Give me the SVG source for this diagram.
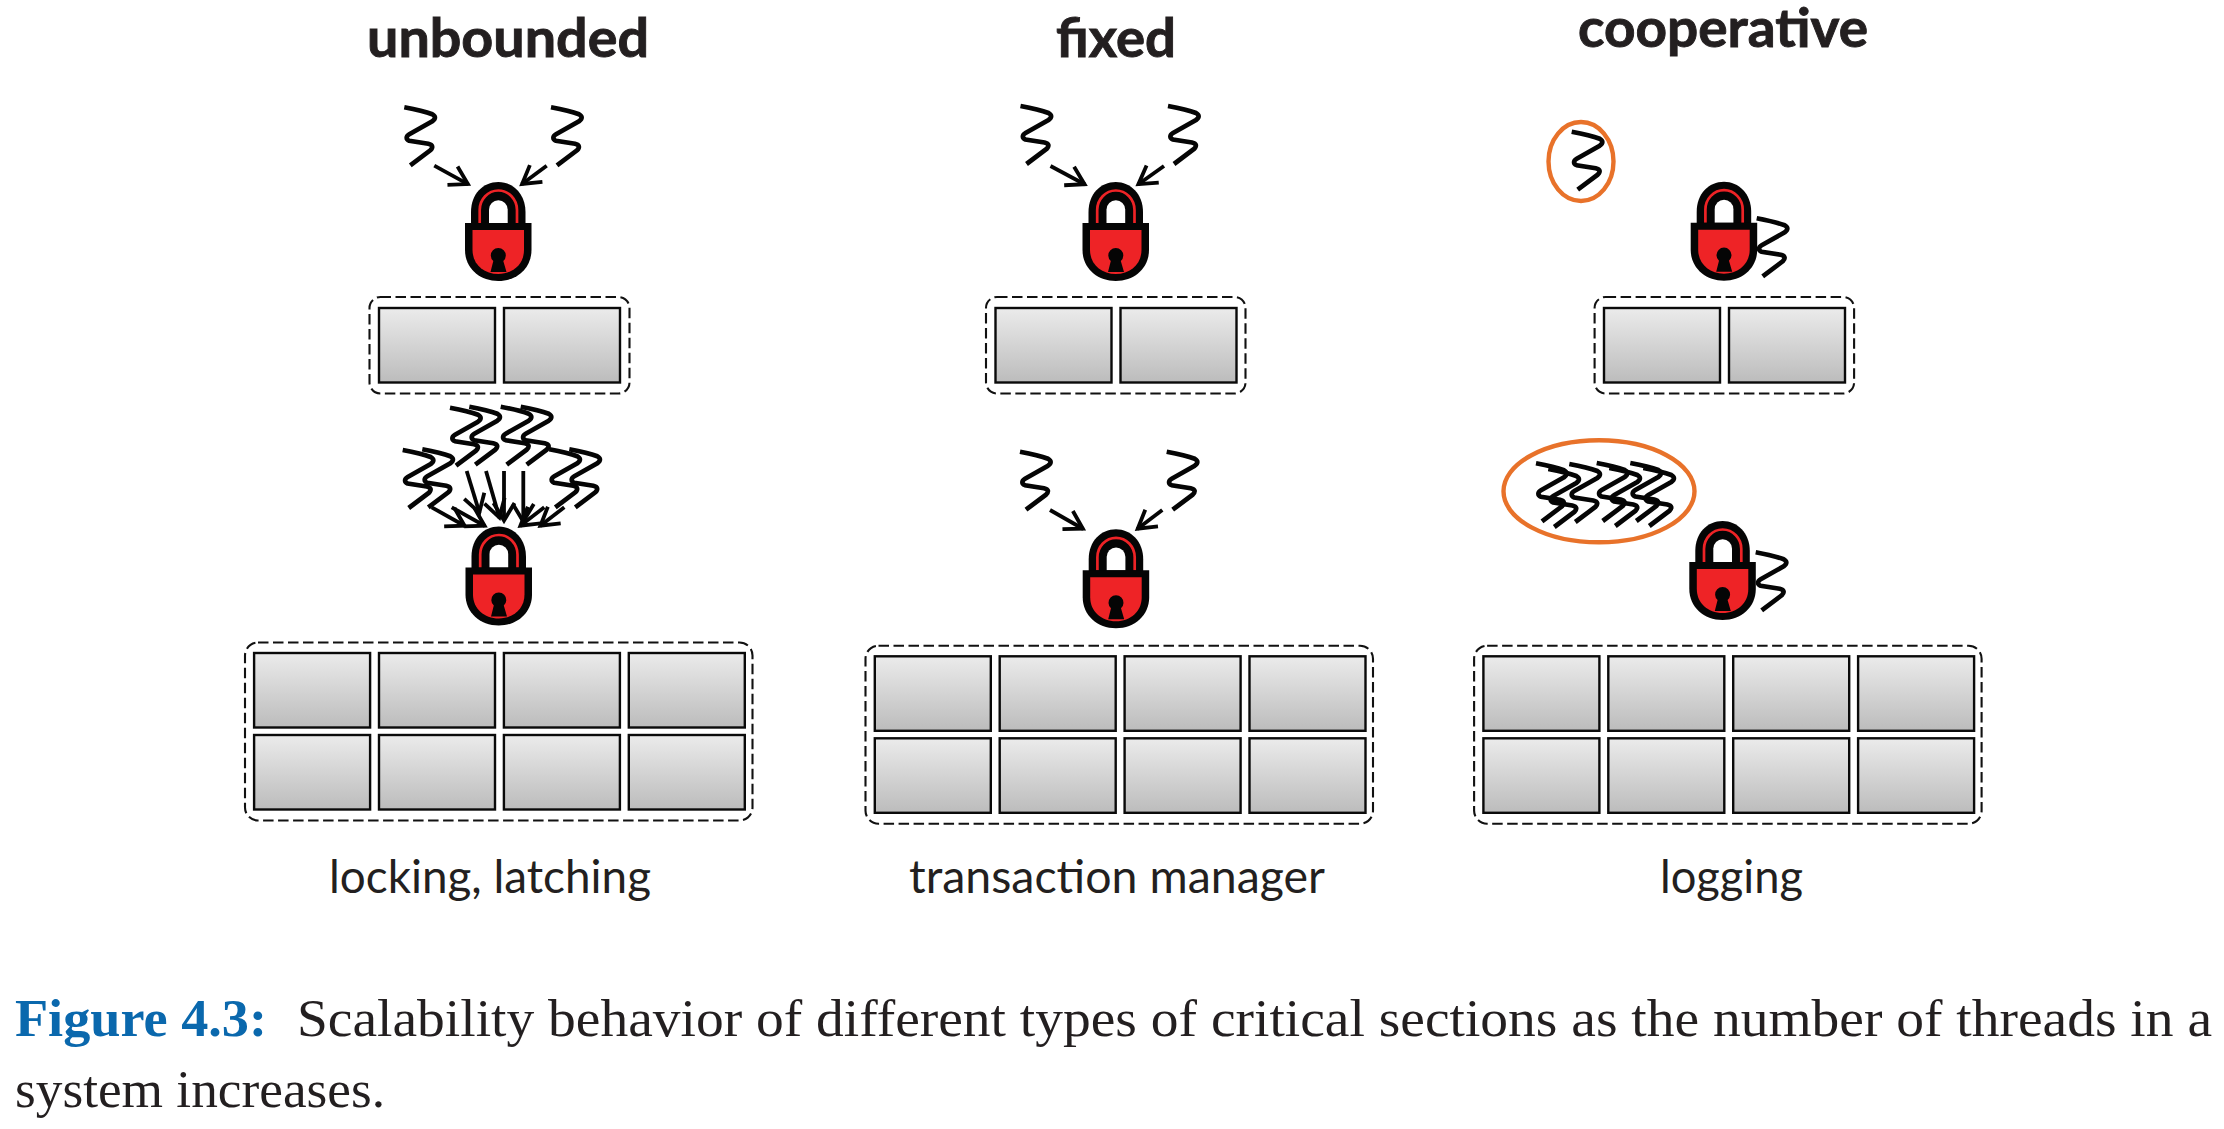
<svg xmlns="http://www.w3.org/2000/svg" xmlns:xlink="http://www.w3.org/1999/xlink" width="2224" height="1129" viewBox="0 0 2224 1129">
<style>
.title{font-family:"Lato","Open Sans",sans-serif;font-weight:700;font-size:53px;fill:#231f20;stroke:#231f20;stroke-width:.9}
.label{font-family:"Lato","Open Sans",sans-serif;font-weight:400;font-size:46px;fill:#231f20}
.cap{font-family:"Liberation Serif",serif;font-size:53px;fill:#231f20}
.capb{font-family:"Liberation Serif",serif;font-weight:700;font-size:53px;fill:#0a68ad}
.cell{fill:url(#g);stroke:#0a0a0a;stroke-width:2.4}
.dash{fill:none;stroke:#111;stroke-width:2.1;stroke-dasharray:10.5 4.5}
.th{fill:none;stroke:#050505;stroke-width:4.7}
.arrow{fill:none;stroke:#050505;stroke-width:3.8;marker-end:url(#head)}
.ring{fill:none;stroke:#e8722a;stroke-width:4.4}
</style>
<defs>
<linearGradient id="g" x1="0" y1="0" x2="0" y2="1"><stop offset="0" stop-color="#ebebeb"/><stop offset="1" stop-color="#bcbcbc"/></linearGradient>
<marker id="head" markerUnits="userSpaceOnUse" markerWidth="30" markerHeight="30" refX="21" refY="15" orient="auto" overflow="visible"><path d="M3,4.5 L20.5,15 L3,25.5" fill="none" stroke="#050505" stroke-width="3.8"/></marker>
<path id="t" class="th" d="M0,0 C8,1.5 20,4 28,7 C31.5,9 31.5,11.5 28,14 L5,27 C1.5,29 1.5,32 5,33.5 L24,36.5 C28.5,37.5 29,40 26,43 L6,58"/>
<g id="lock">
<path d="M6,42 V30 C6,12 18,0 33.3,0 C48,0 60.5,12 60.5,30 V42 Z" fill="#050505"/>
<path d="M14.7,41 V28 A18.65,19.5 0 0 1 52,28 V41" fill="none" stroke="#ee2326" stroke-width="2.7"/>
<path d="M24,41 V27.5 A9.35,9.35 0 0 1 42.7,27.5 V41 Z" fill="#fff"/>
<path d="M0,41 H66.5 V68 C66.5,86 52,99 33.25,99 C14.5,99 0,86 0,68 Z" fill="#050505"/>
<path d="M7.5,48 H59 V68 C59,82 48,92 33.25,92 C18.5,92 7.5,82 7.5,68 Z" fill="#ee2326"/>
<path d="M28.3,79 A7.5,7.5 0 1 1 38.3,79 L41.5,90 H25.5 Z" fill="#050505"/>
</g>
<g id="cells2">
<rect class="cell" x="0" y="0" width="116" height="74.5"/><rect class="cell" x="125" y="0" width="116" height="74.5"/>
</g>
<g id="cells8">
<rect class="cell" x="0" y="0" width="116" height="74.5"/><rect class="cell" x="124.9" y="0" width="116" height="74.5"/><rect class="cell" x="249.8" y="0" width="116" height="74.5"/><rect class="cell" x="374.7" y="0" width="116" height="74.5"/>
<rect class="cell" x="0" y="82" width="116" height="74.5"/><rect class="cell" x="124.9" y="82" width="116" height="74.5"/><rect class="cell" x="249.8" y="82" width="116" height="74.5"/><rect class="cell" x="374.7" y="82" width="116" height="74.5"/>
</g>
</defs>
<rect width="2224" height="1129" fill="#fff"/>

<g id="titles">
<text class="title" x="367" y="57" textLength="282" lengthAdjust="spacingAndGlyphs">unbounded</text>
<text class="title" x="1056" y="57" textLength="120" lengthAdjust="spacingAndGlyphs">fixed</text>
<text class="title" x="1578" y="47" textLength="290" lengthAdjust="spacingAndGlyphs">cooperative</text>
</g>

<g id="unbounded-top">
<use href="#t" x="404.3" y="107.3"/><use href="#t" x="551" y="107.3"/>
<use href="#lock" x="465" y="182"/>
<rect class="dash" x="369.5" y="297" width="260" height="96.5" rx="11"/>
<use href="#cells2" x="379" y="308"/>
</g>
<g id="unbounded-bottom">
<use href="#t" x="402.7" y="450"/><use href="#t" x="422.3" y="449.3"/><use href="#t" x="450" y="407.7"/><use href="#t" x="469.3" y="406.7"/><use href="#t" x="500.7" y="406.7"/><use href="#t" x="520.7" y="406.7"/><use href="#t" x="549.3" y="449.3"/><use href="#t" x="569.3" y="449.3"/>
<use href="#lock" x="465.5" y="526.5"/>
<rect class="dash" x="245" y="642.5" width="507.5" height="178" rx="13"/>
<use href="#cells8" x="254.1" y="653"/>
</g>
<g id="fixed-top">
<use href="#t" x="1020.5" y="106"/><use href="#t" x="1168" y="106"/>
<use href="#lock" x="1082.5" y="182"/>
<rect class="dash" x="986" y="297" width="259.5" height="96.5" rx="11"/>
<use href="#cells2" x="995.5" y="308"/>
</g>
<g id="fixed-bottom">
<use href="#t" x="1020" y="451.7"/><use href="#t" x="1166.7" y="451.7"/>
<use href="#lock" x="1082.7" y="529.3"/>
<rect class="dash" x="865.5" y="645.7" width="507.5" height="178" rx="13"/>
<use href="#cells8" x="874.8" y="656.3"/>
</g>
<g id="cooperative-top">
<ellipse class="ring" cx="1581" cy="161.5" rx="32.5" ry="39.5"/>
<use href="#t" x="1571.7" y="131.7"/>
<use href="#lock" x="1690.7" y="181.7"/>
<use href="#t" x="1756.7" y="218.3"/>
<rect class="dash" x="1594.6" y="297" width="259.5" height="96.5" rx="11"/>
<use href="#cells2" x="1604" y="308"/>
</g>
<g id="cooperative-bottom">
<ellipse class="ring" cx="1599" cy="491.3" rx="95.5" ry="51"/>
<use href="#t" x="1536" y="463.3"/><use href="#t" x="1548.3" y="469"/><use href="#t" x="1569.3" y="464"/><use href="#t" x="1596.7" y="463"/><use href="#t" x="1609.3" y="468"/><use href="#t" x="1630.3" y="463"/><use href="#t" x="1643.3" y="468"/>
<use href="#lock" x="1689.3" y="521"/>
<use href="#t" x="1755.7" y="552.3"/>
<rect class="dash" x="1474.1" y="645.7" width="507.5" height="178" rx="13"/>
<use href="#cells8" x="1483.4" y="656.3"/>
</g>

<g id="connectors">
<path class="arrow" d="M434.3,165.7 L468.3,184.3"/>
<path class="arrow" d="M546.7,165.7 L521.7,184.3"/>
<path class="arrow" d="M431.7,507.3 L465,526"/>
<path class="arrow" d="M451.7,507.3 L485,526"/>
<path class="arrow" d="M466.7,471 L479.5,513"/>
<path class="arrow" d="M486,471 L499.5,518"/>
<path class="arrow" d="M504,471 L504,521"/>
<path class="arrow" d="M523.3,471 L523.3,522"/>
<path class="arrow" d="M544.3,507.3 L520,526"/>
<path class="arrow" d="M564.3,507.3 L540,526"/>
<path class="arrow" d="M1050.5,166 L1085,184.5"/>
<path class="arrow" d="M1164,166 L1138,184.5"/>
<path class="arrow" d="M1050,510 L1083.3,529"/>
<path class="arrow" d="M1162.3,510 L1137.3,529"/>
</g>

<g id="labels">
<text class="label" x="329" y="892.5" textLength="322" lengthAdjust="spacingAndGlyphs">locking, latching</text>
<text class="label" x="909" y="892.5" textLength="416" lengthAdjust="spacingAndGlyphs">transaction manager</text>
<text class="label" x="1660" y="892.5" textLength="143" lengthAdjust="spacingAndGlyphs">logging</text>
</g>

<g id="caption">
<text class="capb" x="15" y="1036" textLength="252" lengthAdjust="spacingAndGlyphs">Figure 4.3:</text>
<text class="cap" x="297" y="1036" textLength="1915" lengthAdjust="spacingAndGlyphs">Scalability behavior of different types of critical sections as the number of threads in a</text>
<text class="cap" x="15" y="1107" textLength="370" lengthAdjust="spacingAndGlyphs">system increases.</text>
</g>
</svg>
